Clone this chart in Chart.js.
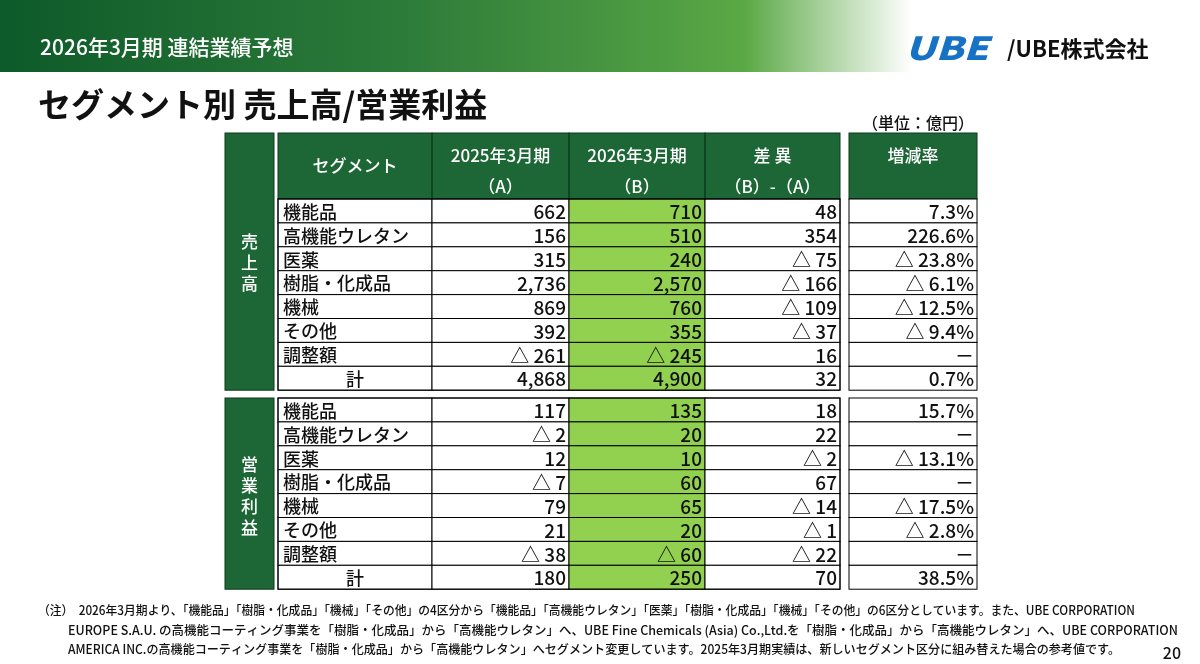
<!DOCTYPE html>
<html>
<head>
<meta charset="utf-8">
<script src="https://cdn.jsdelivr.net/npm/chart.js@4.4.1/dist/chart.umd.min.js"></script>
<style>
  html, body { margin: 0; padding: 0; background: #ffffff; }
  #wrap { width: 1200px; height: 664px; position: relative; }
</style>
</head>
<body>
<div id="wrap"><canvas id="tbl"></canvas></div>
<script>
// ---- data ----
const segments = ["機能品", "高機能ウレタン", "医薬", "樹脂・化成品", "機械", "その他", "調整額", "計"];
const headers = ["セグメント", "2025年3月期", "2026年3月期", "差 異", "増減率"];
const subHeaders = ["", "（A）", "（B）", "（B）-（A）", ""];
const groups = ["売上高", "営業利益"];

const salesA = [662, 156, 315, 2736, 869, 392, -261, 4868];
const salesB = [710, 510, 240, 2570, 760, 355, -245, 4900];
const salesDiff = [48, 354, -75, -166, -109, -37, 16, 32];
const salesRate = [7.3, 226.6, -23.8, -6.1, -12.5, -9.4, null, 0.7];

const profitA = [117, -2, 12, -7, 79, 21, -38, 180];
const profitB = [135, 20, 10, 60, 65, 20, -60, 250];
const profitDiff = [18, 22, -2, 67, -14, -1, -22, 70];
const profitRate = [15.7, null, -13.1, null, -17.5, -2.8, null, 38.5];

const footnotes = [
  "（注）  2026年3月期より、「機能品」「樹脂・化成品」「機械」「その他」の4区分から「機能品」「高機能ウレタン」「医薬」「樹脂・化成品」「機械」「その他」の6区分としています。また、UBE CORPORATION",
  "EUROPE S.A.U. の高機能コーティング事業を「樹脂・化成品」から「高機能ウレタン」へ、UBE Fine Chemicals (Asia) Co.,Ltd.を「樹脂・化成品」から「高機能ウレタン」へ、UBE CORPORATION",
  "AMERICA INC.の高機能コーティング事業を「樹脂・化成品」から「高機能ウレタン」へセグメント変更しています。2025年3月期実績は、新しいセグメント区分に組み替えた場合の参考値です。"
];

// ---- layout ----
const FONT = '"Noto Sans CJK JP", "Noto Sans", sans-serif';
const DARK = "#1d6635";
const LIGHT = "#92d050";
const colEdges = [278, 432, 569, 705, 840];   // segment, A, B, diff
const rateEdges = [849, 977];
const groupEdges = [225, 274];
const headTop = 133, headBot = 199;
const rowH = 23.9;
const blockTops = [199, 398];

function fmtNum(v) {
  const s = Math.abs(v).toLocaleString("en-US");
  return v < 0 ? "△ " + s : s;
}
function fmtRate(v) {
  if (v === null) return "－";
  const s = Math.abs(v).toFixed(1) + "%";
  return v < 0 ? "△ " + s : s;
}

const tablePlugin = {
  id: "tablePlugin",
  afterDraw(chart) {
    const ctx = chart.ctx;
    const X = v => chart.scales.x.getPixelForValue(v);
    const Y = v => chart.scales.y.getPixelForValue(v);
    const rect = (x0, y0, x1, y1, fill, stroke) => {
      const l = X(x0), t = Y(y0), w = X(x1) - l, h = Y(y1) - t;
      if (fill) { ctx.fillStyle = fill; ctx.fillRect(l, t, w, h); }
      if (stroke) { ctx.strokeStyle = stroke; ctx.lineWidth = 1; ctx.strokeRect(l, t, w, h); }
    };
    const text = (s, x, y, size, color, align, weight, maxW) => {
      ctx.font = (weight || "") + " " + size + "px " + FONT;
      ctx.fillStyle = color;
      ctx.textAlign = align || "left";
      ctx.textBaseline = "middle";
      if (maxW) ctx.fillText(s, X(x), Y(y), maxW); else ctx.fillText(s, X(x), Y(y));
    };
    ctx.save();

    // banner
    const g = ctx.createLinearGradient(0, 0, X(1200), 0);
    g.addColorStop(0, "#0d5a2a");
    g.addColorStop(0.35, "#2f7d3a");
    g.addColorStop(0.62, "#5aa845");
    g.addColorStop(0.76, "#ffffff");
    g.addColorStop(1, "#ffffff");
    ctx.fillStyle = g;
    ctx.fillRect(X(0), Y(0), X(1200) - X(0), Y(72) - Y(0));
    text("2026年3月期 連結業績予想", 40, 47, 21, "#ffffff", "left", "500");

    // logo
    ctx.save();
    ctx.font = "italic 900 32px " + FONT;
    ctx.fillStyle = "#1672c4";
    ctx.textAlign = "left"; ctx.textBaseline = "middle";
    ctx.setTransform(ctx.getTransform().scale(1.25, 1));
    ctx.fillText("UBE", X(905) / 1.25, Y(48));
    ctx.restore();
    text("/UBE株式会社", 1007, 49, 22, "#111111", "left", "700");

    // titles
    text("セグメント別 売上高/営業利益", 38, 104, 33, "#111111", "left", "700");
    text("（単位：億円）", 862, 123, 16, "#111111", "left", "500");

    // group column
    rect(groupEdges[0], headTop, groupEdges[1], blockTops[0] + 8 * rowH, DARK, "#0c3a1c");
    rect(groupEdges[0], blockTops[1], groupEdges[1], blockTops[1] + 8 * rowH, DARK, "#0c3a1c");
    const gx = (groupEdges[0] + groupEdges[1]) / 2;
    groups.forEach((name, gi) => {
      const chars = [...name];
      const mid = gi === 0 ? 263 : 496;
      chars.forEach((c, i) => {
        text(c, gx, mid + (i - (chars.length - 1) / 2) * 21, 17, "#ffffff", "center", "500");
      });
    });

    // header
    rect(colEdges[0], headTop, colEdges[4], headBot, DARK, null);
    rect(rateEdges[0], headTop, rateEdges[1], headBot, DARK, null);
    ctx.strokeStyle = "#0c3a1c";
    for (let i = 0; i < 4; i++) rect(colEdges[i], headTop, colEdges[i + 1], headBot, null, "#0c3a1c");
    rect(rateEdges[0], headTop, rateEdges[1], headBot, null, "#0c3a1c");
    const hx = [
      (colEdges[0] + colEdges[1]) / 2, (colEdges[1] + colEdges[2]) / 2,
      (colEdges[2] + colEdges[3]) / 2, (colEdges[3] + colEdges[4]) / 2,
      (rateEdges[0] + rateEdges[1]) / 2
    ];
    headers.forEach((h, i) => {
      const y = i === 0 ? 166 : 156;
      text(h, hx[i], y, 17, "#ffffff", "center", "500");
      if (subHeaders[i]) text(subHeaders[i], hx[i], 187, 17, "#ffffff", "center", "500");
    });

    // body
    const blocks = [
      [salesA, salesB, salesDiff, salesRate],
      [profitA, profitB, profitDiff, profitRate]
    ];
    blocks.forEach((b, bi) => {
      const top = blockTops[bi];
      segments.forEach((seg, r) => {
        const y0 = top + r * rowH, y1 = y0 + rowH, ym = y0 + rowH / 2 + 1;
        for (let c = 0; c < 4; c++) {
          rect(colEdges[c], y0, colEdges[c + 1], y1, c === 2 ? LIGHT : "#ffffff", "#000000");
        }
        rect(rateEdges[0], y0, rateEdges[1], y1, "#ffffff", "#000000");
        if (r === segments.length - 1) text(seg, 355, ym, 18, "#111111", "center", "500");
        else text(seg, 283, ym, 18, "#111111", "left", "500");
        text(fmtNum(b[0][r]), colEdges[2] - 3, ym, 19, "#111111", "right", "500");
        text(fmtNum(b[1][r]), colEdges[3] - 3, ym, 19, "#111111", "right", "500");
        text(fmtNum(b[2][r]), colEdges[4] - 3, ym, 19, "#111111", "right", "500");
        text(fmtRate(b[3][r]), rateEdges[1] - 3, ym, 19, "#111111", "right", "500");
      });
      // outer frame
      rect(colEdges[0], top, colEdges[4], top + 8 * rowH, null, "#000000");
    });

    // footnotes
    text(footnotes[0], 38, 610, 12.5, "#111111", "left", "500", X(1135) - X(38));
    text(footnotes[1], 68, 630, 12.5, "#111111", "left", "500", X(1178) - X(68));
    text(footnotes[2], 68, 649, 12.5, "#111111", "left", "500", X(1120) - X(68));
    text("20", 1181, 653, 16, "#111111", "right", "500");

    ctx.restore();
  }
};

new Chart(document.getElementById("tbl"), {
  type: "scatter",
  data: { datasets: [{ data: [], pointRadius: 0 }] },
  options: {
    responsive: true,
    maintainAspectRatio: false,
    animation: false,
    layout: { padding: 0 },
    plugins: { legend: { display: false }, tooltip: { enabled: false } },
    scales: {
      x: { type: "linear", min: 0, max: 1200, display: false },
      y: { type: "linear", min: 0, max: 664, reverse: true, display: false }
    }
  },
  plugins: [tablePlugin]
});
</script>
</body>
</html>
